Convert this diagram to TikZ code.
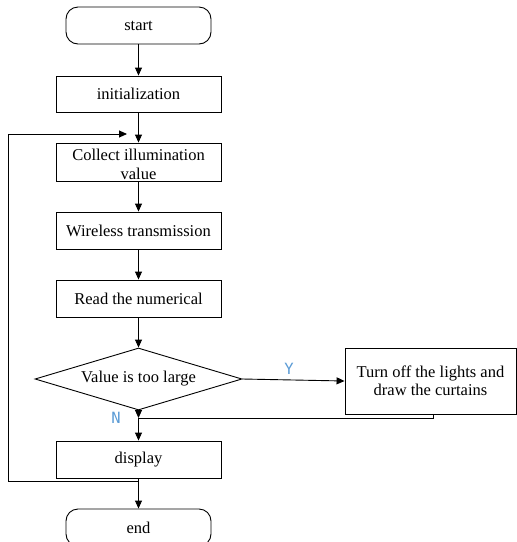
\documentclass[tikz,border=0pt]{standalone}
\usepackage{fontspec}
\setmainfont{Liberation Serif}
\newfontfamily\labelfont{DejaVu Sans Mono}
\usetikzlibrary{arrows.meta,shapes.geometric}
\definecolor{branchblue}{RGB}{91,155,213}
\begin{document}
\begin{tikzpicture}[x=1pt,y=-1pt,
  every node/.style={font=\fontsize{16.5}{18.5}\selectfont},
  stepbox/.style={draw,line width=0.9pt,minimum width=165pt,minimum height=36pt,inner sep=0pt,align=center},
  termbox/.style={draw,line width=0.9pt,rounded corners=12pt,minimum width=145pt,minimum height=37pt,inner sep=0pt},
  flow/.style={line width=0.9pt,-{Triangle[length=8pt,width=7pt]}},
  link/.style={line width=0.9pt},
  branch/.style={font=\labelfont\fontsize{15.5}{15.5}\selectfont,text=branchblue,inner sep=0pt}
]
\useasboundingbox (0,0) rectangle (517,542);

% main column
\node[termbox] (start) at (138.5,25.5) {start};
\node[stepbox] (init) at (138.5,94) {initialization};
\node[stepbox,minimum height=38pt] (collect) at (138.5,162) {};
\node[align=center,inner sep=0pt] (collecttext) at ([yshift=-2.5pt]collect.center) {Collect illumination\\value};
\node[stepbox,minimum height=37pt] (wireless) at (138.5,230.5) {Wireless transmission};
\node[stepbox,minimum height=37pt] (read) at (138.5,298.5) {Read the numerical};
\node[diamond,draw,line width=0.9pt,minimum width=207pt,minimum height=62pt,inner sep=0pt] (decide) at (138.5,379) {};
\node (decidetext) at (decide) {Value is too large};
\node[draw,line width=0.9pt,minimum width=171pt,minimum height=66pt,inner sep=0pt,align=center] (act) at (430.5,381) {Turn off the lights and\\draw the curtains};
\node[stepbox,minimum height=37pt] (display) at (138.5,459.5) {display};
\node[termbox] (end) at (138.5,527.5) {end};

% junction and loop points
\coordinate (merge) at (138.5,418);
\coordinate (loopstart) at (138.5,481);
\coordinate (loopleft) at (8,134);
\coordinate (loopend) at (127,134);

% connectors
\draw[flow] (start) -- (init);
\draw[flow] (init) -- (collect);
\draw[flow] (collect) -- (wireless);
\draw[flow] (wireless) -- (read);
\draw[flow] (read) -- (decide);
\draw[flow] (decide.east) -- (act.west);
\draw[flow] (decide.south) -- (merge);
\draw[link] ([xshift=2.5pt]act.south) |- (merge);
\draw[flow] (merge) -- (display);
\draw[flow] (display) -- (end);
\draw[flow] (loopstart) -| (loopleft) -- (loopend);

% branch labels
\node[branch] (yes) at (289,369) {Y};
\node[branch] (no) at (116,418) {N};
\end{tikzpicture}
\end{document}
